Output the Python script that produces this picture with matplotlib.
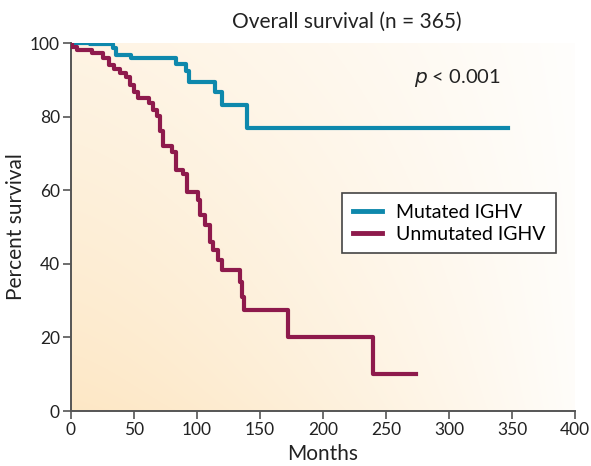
import numpy as np
import matplotlib.pyplot as plt
from matplotlib.colors import to_rgb

plt.rcParams['font.family'] = ['Lato', 'DejaVu Sans']

# Kaplan-Meier step points (months, percent surviving)
mut_t = [0, 15, 33, 36, 48, 83, 91, 94, 114, 120, 140, 347]
mut_s = [100, 99.6, 98.6, 96.8, 95.8, 94.4, 92.3, 89.5, 86.8, 83.2, 77.0, 77.0]

unmut_t = [0, 1, 5, 17, 25, 30, 34, 39, 44, 47, 50, 53, 62, 65, 68, 71, 73,
           80, 83, 89, 92, 101, 102.5, 106, 110.5, 113, 117, 120, 134, 135.5,
           137, 172, 240, 274]
unmut_s = [100, 99, 98, 97.2, 95.8, 94, 92.8, 91.8, 90.8, 88.6, 86.8, 85,
           83.6, 81.8, 80.2, 76, 72, 70.3, 65.5, 64.3, 59.6, 57.3, 53.3, 50.5,
           46, 43.8, 41, 38.3, 35, 31, 27.4, 20, 10, 10]

xticks = [0, 50, 100, 150, 200, 250, 300, 350, 400]
yticks = [0, 20, 40, 60, 80, 100]

blue = '#0e88ac'
maroon = '#8e1a4c'
spine = '#555555'
ink = '#222222'

fig = plt.figure(figsize=(5.91, 4.66), dpi=100)
ax = fig.add_axes([71/591, 1 - 411/466, 504/591, 368/466])

# cream wash, warmest at the lower left, fading toward white at the right
gx, gy = np.meshgrid(np.linspace(0, 1, 300), np.linspace(0, 1, 240))
w = (1 - 0.9 * gx ** 1.3) * (0.68 - 0.36 * gy ** 0.8)
warm = np.array(to_rgb('#fcdcaa'))
img = 1 - (1 - warm)[None, None, :] * w[..., None]
ax.imshow(img, extent=[0, 400, 0, 100], origin='lower', aspect='auto',
          zorder=0, interpolation='bilinear')

ax.step(mut_t, mut_s, where='post', color=blue, lw=3, label='Mutated IGHV',
        zorder=3)
ax.step(unmut_t, unmut_s, where='post', color=maroon, lw=3,
        label='Unmutated IGHV', zorder=3)

ax.set_xlim(0, 400)
ax.set_ylim(0, 100)
ax.set_xticks(xticks)
ax.set_yticks(yticks)
for s in ['top', 'right']:
    ax.spines[s].set_visible(False)
for s in ['left', 'bottom']:
    ax.spines[s].set_color(spine)
    ax.spines[s].set_linewidth(1.4)
ax.tick_params(direction='out', length=6, width=1.2, color=spine,
               labelsize=12.5, labelcolor=ink, pad=2)

ax.set_xlabel('Months', fontsize=15, color=ink, labelpad=4)
ax.set_ylabel('Percent survival', fontsize=15, color=ink, labelpad=3)
fig.text(347/591, 1 - 22/466, 'Overall survival (n = 365)', ha='center',
         va='center', fontsize=15, color=ink)
ax.text(272, 90.5, r'$p$ < 0.001', fontsize=14.5, color=ink, va='center')

leg = ax.legend(loc='upper left', bbox_to_anchor=(0.538, 0.592), fontsize=14,
                frameon=True, fancybox=False, handlelength=1.5,
                borderpad=0.55, labelspacing=0.25, handletextpad=0.7,
                borderaxespad=0)
leg.get_frame().set_edgecolor('#444444')
leg.get_frame().set_linewidth(1.2)
leg.get_frame().set_alpha(1)
for line in leg.get_lines():
    line.set_linewidth(3.5)

plt.savefig('out.png', dpi=100)
